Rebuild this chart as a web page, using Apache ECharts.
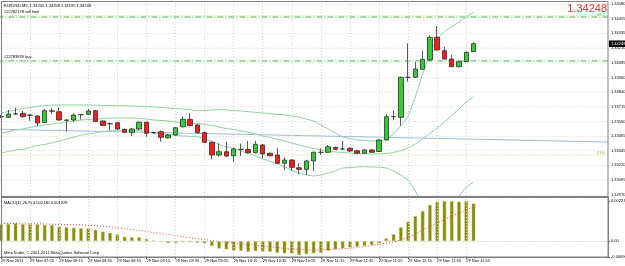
<!DOCTYPE html>
<html><head><meta charset="utf-8">
<script src="https://cdn.jsdelivr.net/npm/echarts@6/dist/echarts.min.js"></script>
<style>html,body{margin:0;padding:0;background:#fff}#c{width:625px;height:266px}</style>
</head><body><div id="c"></div>
<script>
// ---------- data ----------
const times = ["07:35","07:40","07:45","07:50","07:55","08:00","08:05","08:10","08:15","08:20","08:25","08:30","08:35","08:40","08:45","08:50","08:55","09:00","09:05","09:10","09:15","09:20","09:25","09:30","09:35","09:40","09:45","09:50","09:55","10:00","10:05","10:10","10:15","10:20","10:25","10:30","10:35","10:40","10:45","10:50","10:55","11:00","11:05","11:10","11:15","11:20","11:25","11:30","11:35","11:40","11:45","11:50","11:55","12:00","12:05","12:10","12:15","12:20","12:25","12:30","12:35","12:40","12:45","12:50","12:55","13:00"];
const timeTickLabels = ["29 Nov 2011","29 Nov 07:55","29 Nov 08:15","29 Nov 08:35","29 Nov 08:55","29 Nov 09:15","29 Nov 09:35","29 Nov 09:55","29 Nov 10:15","29 Nov 10:35","29 Nov 10:55","29 Nov 11:15","29 Nov 11:35","29 Nov 11:55","29 Nov 12:15","29 Nov 12:35","29 Nov 12:55"];
const opens = [1.33631,1.33626,1.33655,1.33660,1.33645,1.33637,1.33582,1.33681,1.33673,1.33603,
1.33603,1.33648,1.33651,1.33682,1.33595,1.33572,1.33580,1.33524,1.33499,1.33527,
1.33584,1.33496,1.33504,1.33453,1.33476,1.33546,1.33609,1.33561,1.33497,1.33415,
1.33307,1.33335,1.33301,1.33355,1.33355,1.33327,1.33392,1.33322,1.33307,1.33237,
1.33265,1.33200,1.33186,1.33257,1.33330,1.33330,1.33372,1.33358,1.33364,1.33344,
1.33322,1.33350,1.33337,1.33434,1.33631,1.33626,1.33964,1.33964,1.34031,1.34110,
1.34302,1.34189,1.34118,1.34053,1.34096,1.34180];
const closes = [1.33631,1.33654,1.33655,1.33631,1.33643,1.33578,1.33682,1.33677,1.33603,1.33600,
1.33645,1.33648,1.33679,1.33590,1.33557,1.33572,1.33527,1.33499,1.33527,1.33584,
1.33491,1.33496,1.33457,1.33476,1.33538,1.33609,1.33555,1.33496,1.33415,1.33307,
1.33335,1.33299,1.33358,1.33355,1.33327,1.33398,1.33316,1.33301,1.33237,1.33265,
1.33203,1.33186,1.33257,1.33330,1.33330,1.33377,1.33355,1.33358,1.33341,1.33322,
1.33350,1.33330,1.33434,1.33631,1.33631,1.33964,1.33964,1.34034,1.34116,1.34302,
1.34195,1.34118,1.34053,1.34096,1.34175,1.34248];
const lows = [1.33620,1.33620,1.33645,1.33624,1.33597,1.33552,1.33578,1.33654,1.33599,1.33506,
1.33589,1.33607,1.33645,1.33586,1.33552,1.33519,1.33519,1.33493,1.33468,1.33519,
1.33462,1.33485,1.33420,1.33447,1.33472,1.33540,1.33548,1.33489,1.33409,1.33269,
1.33293,1.33290,1.33251,1.33299,1.33320,1.33320,1.33279,1.33295,1.33231,1.33181,
1.33175,1.33144,1.33138,1.33172,1.33307,1.33324,1.33350,1.33350,1.33333,1.33316,
1.33316,1.33324,1.33333,1.33430,1.33603,1.33557,1.33927,1.33958,1.34026,1.34106,
1.34190,1.34114,1.34051,1.34047,1.34093,1.34178];
const highs = [1.33645,1.33688,1.33707,1.33679,1.33654,1.33645,1.33696,1.33702,1.33709,1.33611,
1.33660,1.33654,1.33696,1.33688,1.33599,1.33582,1.33586,1.33531,1.33535,1.33590,
1.33590,1.33506,1.33514,1.33485,1.33544,1.33631,1.33660,1.33569,1.33506,1.33421,
1.33406,1.33420,1.33366,1.33404,1.33426,1.33426,1.33400,1.33328,1.33364,1.33288,
1.33273,1.33237,1.33265,1.33337,1.33364,1.33392,1.33379,1.33426,1.33371,1.33350,
1.33358,1.33358,1.33442,1.33651,1.33683,1.33971,1.34251,1.34096,1.34189,1.34321,
1.34397,1.34220,1.34152,1.34106,1.34182,1.34258];
const bbUpper = [1.33662,1.33675,1.33688,1.33700,1.33709,1.33717,1.33726,1.33728,1.33730,1.33730,
1.33730,1.33730,1.33730,1.33728,1.33726,1.33725,1.33724,1.33723,1.33721,1.33719,
1.33716,1.33713,1.33709,1.33704,1.33700,1.33696,1.33690,1.33683,1.33683,1.33688,
1.33692,1.33688,1.33683,1.33679,1.33673,1.33668,1.33662,1.33656,1.33651,1.33645,
1.33637,1.33628,1.33611,1.33595,1.33561,1.33527,1.33493,1.33459,1.33447,1.33434,
1.33430,1.33426,1.33426,1.33442,1.33485,1.33552,1.33637,1.33797,1.33992,1.34161,
1.34296,1.34347,1.34389,1.34431,1.34473,1.34516];
const bbMiddle = [1.33493,1.33506,1.33519,1.33527,1.33540,1.33552,1.33561,1.33569,1.33578,1.33586,
1.33595,1.33603,1.33607,1.33611,1.33616,1.33620,1.33620,1.33620,1.33620,1.33616,
1.33611,1.33603,1.33599,1.33595,1.33586,1.33582,1.33578,1.33573,1.33565,1.33557,
1.33544,1.33531,1.33523,1.33510,1.33497,1.33485,1.33468,1.33455,1.33442,1.33426,
1.33409,1.33392,1.33375,1.33362,1.33350,1.33341,1.33333,1.33328,1.33324,1.33320,
1.33320,1.33316,1.33316,1.33320,1.33328,1.33345,1.33366,1.33400,1.33442,1.33489,
1.33535,1.33586,1.33641,1.33696,1.33755,1.33797];
const bbLower = [1.33324,1.33337,1.33350,1.33354,1.33371,1.33388,1.33396,1.33410,1.33426,1.33442,
1.33459,1.33476,1.33485,1.33495,1.33505,1.33514,1.33516,1.33517,1.33519,1.33513,
1.33507,1.33493,1.33489,1.33485,1.33472,1.33468,1.33465,1.33464,1.33447,1.33426,
1.33396,1.33375,1.33362,1.33341,1.33322,1.33301,1.33273,1.33254,1.33234,1.33206,
1.33181,1.33155,1.33138,1.33130,1.33138,1.33155,1.33172,1.33197,1.33202,1.33206,
1.33210,1.33206,1.33206,1.33197,1.33172,1.33138,1.33096,1.33003,1.32893,1.32817,
1.32775,1.32826,1.32893,1.32961,1.33037,1.33079];
const macdHist = [0.00095,0.00097,0.00101,0.00095,0.00095,0.00095,0.00091,0.00091,0.00081,0.00078,
0.00076,0.00072,0.00072,0.00063,0.00053,0.00047,0.00038,0.00024,0.00021,0.00021,
0.00011,0.00003,-0.00004,-0.00011,-0.00011,-0.00006,-0.00006,-0.00009,-0.00013,-0.00028,
-0.00042,-0.00047,-0.00055,-0.00055,-0.00061,-0.00057,-0.00061,-0.00061,-0.00067,-0.00070,
-0.00070,-0.00080,-0.00074,-0.00070,-0.00067,-0.00055,-0.00047,-0.00042,-0.00036,-0.00032,
-0.00028,-0.00023,-0.00013,0.00015,0.00038,0.00078,0.00110,0.00142,0.00171,0.00205,
0.00224,0.002277,0.00227,0.00224,0.00227,0.00213];
const macdSignal = [0.00100,0.00100,0.00099,0.00098,0.00098,0.00098,0.00097,0.00096,0.00095,0.00094,
0.00093,0.00091,0.00089,0.00087,0.00084,0.00080,0.00075,0.00071,0.00065,0.00060,
0.00054,0.00048,0.00043,0.00037,0.00031,0.00026,0.00020,0.00014,0.00009,0.00003,
-0.00003,-0.00007,-0.00011,-0.00016,-0.00020,-0.00024,-0.00028,-0.00033,-0.00037,-0.00042,
-0.00046,-0.00048,-0.00051,-0.00051,-0.00051,-0.00050,-0.00047,-0.00044,-0.00042,-0.00037,
-0.00031,-0.00026,-0.00019,-0.00011,-0.00005,0.00006,0.00020,0.00040,0.00063,0.00083,
0.00102,0.00122,0.00142,0.00159,0.00176,0.001928];
const priceTicks = [1.32970,1.33095,1.33220,1.33345,1.33465,1.33590,1.33715,1.33840,1.33960,1.34085,1.34210,1.34335,1.34455,1.34580];
const macdTicks = [-0.000901, 0, 0.002277];
const macdTickLabels = ["-0.000901","0.00","0.002277"];
const trendLine = [1.33525, 1.33417];
const sellLimit = 1.34473, buyLevel = 1.34102;
const fib382 = 1.34484, fib236 = 1.33307;
const lastPrice = "1.34248";

// ---------- chart ----------
const FONT = 'Liberation Sans';
const FS = 4;
const N = times.length, PAD = 18;
const cats = times.concat(Array.from({length: PAD}, (_, k) => 'pad' + k));
const isTick = i => i % 4 === 0 && i < N;
const tickIdx = times.map((t, i) => i).filter(isTick);
const GL = -2.6, GW = 610.6;
const candles = opens.map((o, i) => [o, closes[i], lows[i], highs[i]]);
const dotted = {type: [1, 2], color: '#d2d2d2', width: 1};

// horizontal full-width line on the hidden 0..1 x axis of the main grid
const hSeries = (name, v, style, z) => ({type: 'line', name, xAxisIndex: 2, yAxisIndex: 0,
  data: [[0, v], [1, v]], symbol: 'none', silent: true, lineStyle: style, z: z || 1});

const chart = echarts.init(document.getElementById('c'), null, {renderer: 'canvas', width: 625, height: 266});
chart.setOption({
  animation: false,
  backgroundColor: '#ffffff',
  grid: [
    {left: GL, top: 2, width: GW, height: 194, outerBoundsMode: 'none', containLabel: false},
    {left: GL, top: 198, width: GW, height: 59, outerBoundsMode: 'none', containLabel: false}
  ],
  xAxis: [
    {type: 'category', gridIndex: 0, data: cats, boundaryGap: true,
     axisLine: {show: false}, axisTick: {show: false}, axisLabel: {show: false}, splitLine: {show: false}},
    {type: 'category', gridIndex: 1, data: cats, boundaryGap: true,
     axisLine: {show: true, onZero: false, lineStyle: {color: '#808080', width: 1}},
     axisTick: {show: true, alignWithLabel: true, interval: (i) => isTick(i), length: 2, lineStyle: {color: '#606060'}},
     axisLabel: {show: true, interval: (i) => isTick(i), align: 'left', margin: 2, fontSize: FS, fontFamily: FONT, color: '#000',
       formatter: (v, i) => isTick(i) ? timeTickLabels[i / 4] : ''},
     splitLine: {show: false}},
    {type: 'value', gridIndex: 0, min: 0, max: 1, show: false}
  ],
  yAxis: [
    {type: 'value', gridIndex: 0, position: 'right', min: 1.32961, max: 1.34600,
     axisLine: {show: true, lineStyle: {color: '#808080'}},
     axisTick: {show: true, length: 2, customValues: priceTicks, lineStyle: {color: '#606060'}},
     axisLabel: {show: true, customValues: priceTicks, margin: 3, fontSize: FS, fontFamily: FONT, color: '#000',
       formatter: v => v.toFixed(5)},
     splitLine: {show: false}},
    {type: 'value', gridIndex: 1, position: 'right', min: -0.00091, max: 0.00245,
     axisLine: {show: true, lineStyle: {color: '#808080'}},
     axisTick: {show: true, length: 2, customValues: macdTicks, lineStyle: {color: '#606060'}},
     axisLabel: {show: true, customValues: macdTicks, margin: 3, fontSize: FS, fontFamily: FONT, color: '#000',
       formatter: v => macdTickLabels[macdTicks.indexOf(v)] || v.toFixed(6)},
     splitLine: {show: false}}
  ],
  series: [].concat(
    priceTicks.map((v, k) => hSeries('grid' + k, v, dotted, 1)),
    [
      hSeries('fib382', fib382, {type: [1, 2], color: '#c9d27a', width: 1}, 2),
      hSeries('fib236', fib236, {type: [1, 2], color: '#c9d27a', width: 1}, 2),
      hSeries('sellLimit', sellLimit, {type: [6, 2, 1, 2], color: '#4fb04f', width: 1}, 2),
      hSeries('buy', buyLevel, {type: [6, 2, 1, 2], color: '#4fb04f', width: 1}, 2),
      {type: 'line', name: 'trend', xAxisIndex: 2, yAxisIndex: 0, data: [[0, trendLine[0]], [1, trendLine[1]]],
       symbol: 'none', silent: true, lineStyle: {color: '#a2bad6', width: 1}, z: 2},
      {type: 'line', name: 'bbUpper', xAxisIndex: 0, yAxisIndex: 0, data: bbUpper, symbol: 'none',
       lineStyle: {color: '#8ed4a8', width: 1}, z: 3,
       markLine: {silent: true, symbol: ['none', 'none'], label: {show: false}, animation: false,
         data: tickIdx.map(i => ({xAxis: times[i], lineStyle: dotted}))}},
      {type: 'line', name: 'bbMiddle', xAxisIndex: 0, yAxisIndex: 0, data: bbMiddle, symbol: 'none',
       lineStyle: {color: '#8ed4a8', width: 1}, z: 3},
      {type: 'line', name: 'bbLower', xAxisIndex: 0, yAxisIndex: 0, data: bbLower, symbol: 'none',
       lineStyle: {color: '#8ed4a8', width: 1}, z: 3},
      {type: 'candlestick', name: 'EURUSD', xAxisIndex: 0, yAxisIndex: 0, data: candles, barWidth: 5, z: 5,
       itemStyle: {color: '#33cc33', color0: '#ff1a1a', borderColor: '#303030', borderColor0: '#303030', borderWidth: 0.8}},
      {type: 'bar', name: 'MACD', xAxisIndex: 1, yAxisIndex: 1, data: macdHist, barWidth: 3.5, z: 3,
       itemStyle: {color: '#8a8a08', borderColor: '#c2c266', borderWidth: 0.5},
       markLine: {silent: true, symbol: ['none', 'none'], label: {show: false}, animation: false,
         data: tickIdx.map(i => ({xAxis: times[i], lineStyle: dotted}))
           .concat([{yAxis: 0, lineStyle: dotted}, {yAxis: 0.002277, lineStyle: dotted}])}},
      {type: 'line', name: 'Signal', xAxisIndex: 1, yAxisIndex: 1, data: macdSignal, symbol: 'none', z: 4,
       lineStyle: {color: '#ff3b3b', width: 1, type: [1, 2]}}
    ]),
  graphic: [
    {type: 'rect', shape: {x: 1.5, y: 1.5, width: 606.5, height: 255.5}, style: {fill: 'none', stroke: '#808080', lineWidth: 1}, z: 50},
    {type: 'rect', shape: {x: 1, y: 196, width: 607.5, height: 2}, style: {fill: '#7f7f7f'}, z: 50},
    {type: 'text', x: 4, y: 5.5, style: {text: 'EURUSD,M5  1.34205 1.34258 1.34195 1.34248', font: FS + 'px ' + FONT, fill: '#000', textVerticalAlign: 'middle', verticalAlign: 'middle'}, z: 60},
    {type: 'text', x: 4, y: 12, style: {text: '#22782178 sell limit', font: FS + 'px ' + FONT, fill: '#000', textVerticalAlign: 'middle', verticalAlign: 'middle'}, z: 60},
    {type: 'text', x: 4, y: 57, style: {text: '#22783839 buy', font: FS + 'px ' + FONT, fill: '#000', textVerticalAlign: 'middle', verticalAlign: 'middle'}, z: 60},
    {type: 'text', x: 597, y: 14.5, style: {text: '38.2', font: FS + 'px ' + FONT, fill: '#9aab3a', textVerticalAlign: 'middle', verticalAlign: 'middle'}, z: 60},
    {type: 'text', x: 597, y: 152.5, style: {text: '23.6', font: FS + 'px ' + FONT, fill: '#9aab3a', textVerticalAlign: 'middle', verticalAlign: 'middle'}, z: 60},
    {type: 'text', x: 607, y: 9, style: {text: lastPrice, font: '11px ' + FONT, fill: '#ff2a2a', textAlign: 'right', align: 'right', textVerticalAlign: 'middle', verticalAlign: 'middle'}, z: 60},
    {type: 'rect', shape: {x: 609, y: 40.5, width: 16, height: 6.5}, style: {fill: '#000'}, z: 60},
    {type: 'text', x: 611, y: 43.8, style: {text: lastPrice, font: FS + 'px ' + FONT, fill: '#fff', textVerticalAlign: 'middle', verticalAlign: 'middle'}, z: 61},
    {type: 'text', x: 4, y: 203, style: {text: 'MACD(12,26,9) 0.002130 0.001928', font: FS + 'px ' + FONT, fill: '#000', textVerticalAlign: 'middle', verticalAlign: 'middle'}, z: 60},
    {type: 'text', x: 4, y: 253, style: {text: 'MetaTrader, \u00a9 2001-2011 MetaQuotes Software Corp.', font: FS + 'px ' + FONT, fill: '#000', textVerticalAlign: 'middle', verticalAlign: 'middle'}, z: 60}
  ]
});
</script>
</body></html>
